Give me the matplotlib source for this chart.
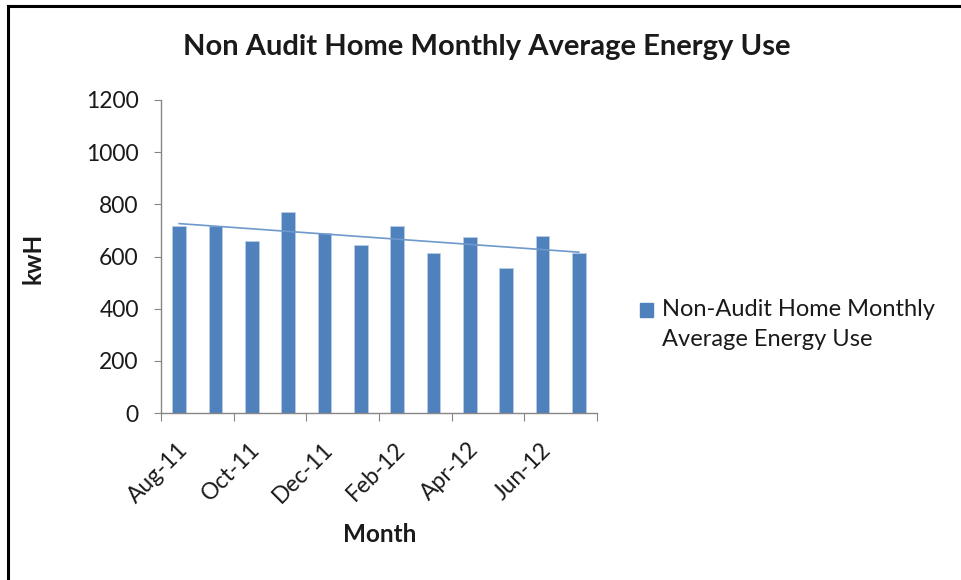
import numpy as np
import matplotlib
matplotlib.use("Agg")
import matplotlib.pyplot as plt
import matplotlib.transforms as mtransforms
from matplotlib.patches import Rectangle
from matplotlib.lines import Line2D

months = ["Aug-11", "Sep-11", "Oct-11", "Nov-11", "Dec-11", "Jan-12",
          "Feb-12", "Mar-12", "Apr-12", "May-12", "Jun-12", "Jul-12"]
energy_kwh = [718, 718, 659, 772, 689, 644, 718, 615, 674, 555, 679, 615]
y_ticks = [0, 200, 400, 600, 800, 1000, 1200]
series_name = "Non-Audit Home Monthly\nAverage Energy Use"

BAR = "#4F81BD"
AXIS = "#868686"
TXT = "#1a1a1a"
FONT = "Lato"

plt.rcParams["font.family"] = [FONT, "DejaVu Sans"]

fig = plt.figure(figsize=(9.61, 5.8), dpi=100)
ax = fig.add_axes([161 / 961, 1 - 413 / 580, 436 / 961, 313 / 580])

x = np.arange(len(months))
ax.bar(x, energy_kwh, width=0.38, color=BAR, edgecolor="#b9cde5", linewidth=0.6, zorder=2)

# linear trend over the monthly values
slope, icpt = np.polyfit(x, energy_kwh, 1)
ax.plot(x, slope * x + icpt, color="#6f98cc", linewidth=1.2, zorder=3)

ax.set_xlim(-0.5, len(months) - 0.5)
ax.set_ylim(0, 1200)
ax.set_yticks(y_ticks)
ax.set_yticklabels([str(v) for v in y_ticks], fontsize=16.5, color=TXT)

# month boundaries every two months get tick marks, labels sit at month centres
ax.set_xticks(np.arange(-0.5, len(months), 2))
ax.set_xticklabels([])
ax.set_xticks(x[::2], minor=True)
ax.set_xticklabels(months[::2], minor=True, rotation=45, ha="right",
                   va="center", rotation_mode="anchor", fontsize=16.5, color=TXT)
ax.tick_params(axis="x", which="major", length=6, color=AXIS, direction="out")
ax.tick_params(axis="x", which="minor", length=0, pad=24)
ax.tick_params(axis="y", length=5, color=AXIS, pad=11)

shift = mtransforms.ScaledTranslation(5 / 100, 0, fig.dpi_scale_trans)
for lbl in ax.get_xticklabels(minor=True):
    lbl.set_transform(lbl.get_transform() + shift)

for side in ["top", "right"]:
    ax.spines[side].set_visible(False)
for side in ["left", "bottom"]:
    ax.spines[side].set_color(AXIS)
    ax.spines[side].set_linewidth(1.0)

fig.text(487 / 961, 1 - 47 / 580, "Non Audit Home Monthly Average Energy Use",
         ha="center", va="center", fontsize=21, fontweight="bold", color=TXT)
fig.text(380 / 961, 1 - 535 / 580, "Month", ha="center", va="center",
         fontsize=17.5, fontweight="bold", color=TXT)
fig.text(33 / 961, 1 - 258 / 580, "kwH", ha="center", va="center",
         fontsize=17.5, fontweight="bold", rotation=90, color=TXT)

# legend entry
fig.add_artist(Rectangle((640 / 961, 1 - 317 / 580), 13 / 961, 14 / 580,
                         transform=fig.transFigure, color=BAR))
fig.text(662 / 961, 1 - 299 / 580, series_name, ha="left", va="top",
         fontsize=17, linespacing=1.55, color=TXT)

# outer frame (top and left edges)
fig.add_artist(Line2D([8 / 961, 1], [1 - 6 / 580, 1 - 6 / 580],
                      transform=fig.transFigure, color="black", linewidth=2.2))
fig.add_artist(Line2D([8 / 961, 8 / 961], [0, 1 - 6 / 580],
                      transform=fig.transFigure, color="black", linewidth=2.2))

fig.savefig("out.png", dpi=100)
